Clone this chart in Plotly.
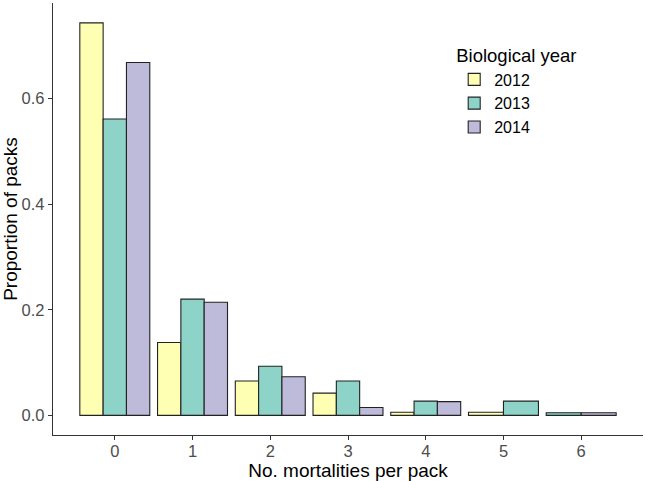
import plotly.graph_objects as go

categories = [0, 1, 2, 3, 4, 5, 6]
years = ["2012", "2013", "2014"]
values_2012 = [0.743, 0.138, 0.065, 0.042, 0.006, 0.006, None]
values_2013 = [0.561, 0.220, 0.093, 0.065, 0.027, 0.027, 0.005]
values_2014 = [0.668, 0.214, 0.073, 0.015, 0.026, None, 0.005]
colors = ["#FFFFB3", "#8DD3C7", "#BEBADA"]

series = [values_2012, values_2013, values_2014]
group_width = 0.9

# ggplot-style dodge: bars present in a category share the group width
positions = {y: ([], [], []) for y in years}
for ci, cat in enumerate(categories):
    present = [k for k in range(len(years)) if series[k][ci] is not None]
    n = len(present)
    w = group_width / n
    for j, k in enumerate(present):
        xs, ws, vs = positions[years[k]]
        xs.append(cat - group_width / 2 + w * (j + 0.5))
        ws.append(w)
        vs.append(series[k][ci])

fig = go.Figure()
for k, y in enumerate(years):
    xs, ws, vs = positions[y]
    fig.add_trace(go.Bar(
        x=xs, y=vs, width=ws, name=y,
        marker=dict(color=colors[k], line=dict(color="#222222", width=1.1)),
    ))

fig.update_layout(
    width=645, height=481,
    barmode="overlay",
    plot_bgcolor="white", paper_bgcolor="white",
    margin=dict(l=53, r=2, t=3, b=46),
    font=dict(family="Liberation Sans, Arial, sans-serif", color="black"),
    legend=dict(
        title=dict(text="Biological year", font=dict(size=18.5, color="black")),
        font=dict(size=16, color="black"),
        x=0.68, y=0.918, xanchor="left", yanchor="top",
        bgcolor="rgba(0,0,0,0)", tracegroupgap=0,
    ),
    xaxis=dict(
        range=[-0.795, 6.795],
        tickvals=categories, ticktext=[str(c) for c in categories],
        showline=True, linecolor="#333333", linewidth=1.3,
        ticks="outside", ticklen=4, tickcolor="#333333",
        tickfont=dict(size=16.5, color="#4D4D4D"),
        ticklabelstandoff=-3,
        showgrid=False, zeroline=False,
        title=dict(text="No. mortalities per pack", font=dict(size=19, color="black"), standoff=2),
    ),
    yaxis=dict(
        range=[-0.0372, 0.7807],
        tickvals=[0, 0.2, 0.4, 0.6], tickformat=".1f",
        showline=True, linecolor="#333333", linewidth=1.3,
        ticks="outside", ticklen=4, tickcolor="#333333",
        tickfont=dict(size=16.5, color="#4D4D4D"),
        showgrid=False, zeroline=False,
        title=dict(text="Proportion of packs", font=dict(size=19, color="black"), standoff=4),
    ),
)

fig.write_html("out.html")
